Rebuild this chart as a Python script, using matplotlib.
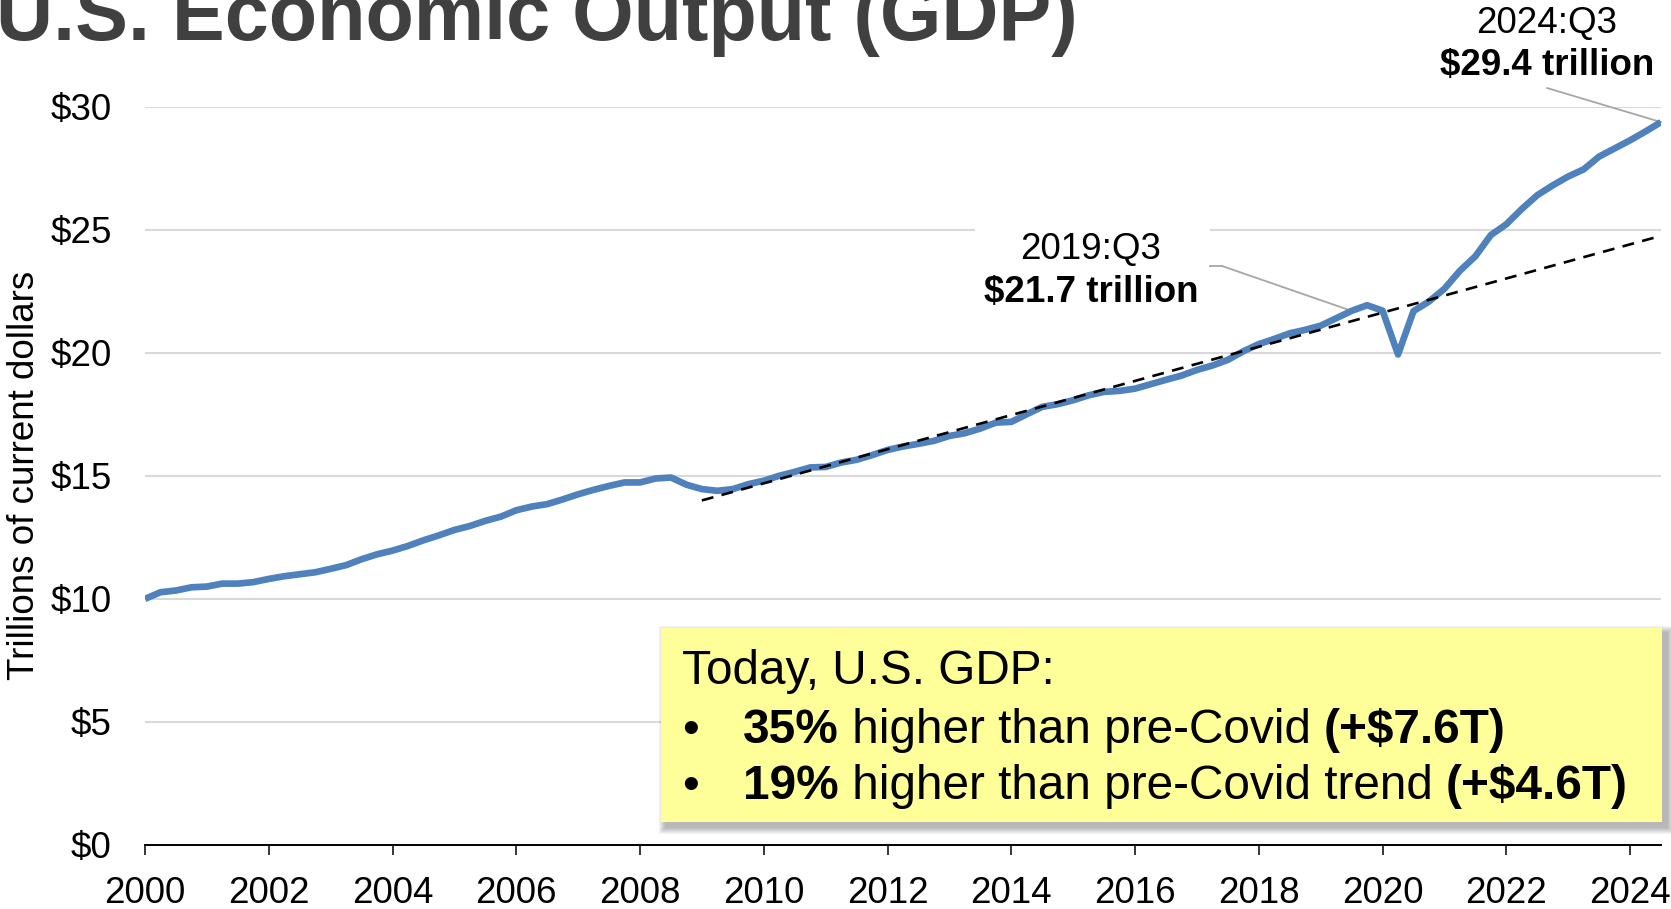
import matplotlib
matplotlib.use("Agg")
import matplotlib.pyplot as plt
from matplotlib.patches import Rectangle
from matplotlib.lines import Line2D
from matplotlib.text import Annotation

plt.rcParams["font.family"] = ["Liberation Sans", "DejaVu Sans"]

# Nominal GDP, seasonally adjusted annual rate, trillions of dollars (2000:Q1 - 2024:Q3)
first_year = 2000
gdp = [
    10.00, 10.27, 10.34, 10.47,
    10.50, 10.62, 10.62, 10.68,
    10.81, 10.92, 11.00, 11.08,
    11.22, 11.37, 11.61, 11.81,
    11.96, 12.15, 12.38, 12.58,
    12.80, 12.96, 13.17, 13.34,
    13.60, 13.75, 13.85, 14.04,
    14.25, 14.43, 14.59, 14.73,
    14.73, 14.89, 14.93, 14.64,
    14.46, 14.39, 14.46, 14.66,
    14.80, 15.00, 15.16, 15.34,
    15.36, 15.54, 15.65, 15.84,
    16.05, 16.19, 16.30, 16.42,
    16.62, 16.73, 16.92, 17.16,
    17.19, 17.50, 17.80, 17.91,
    18.07, 18.27, 18.41, 18.45,
    18.54, 18.72, 18.90, 19.07,
    19.30, 19.48, 19.71, 20.06,
    20.35, 20.56, 20.79, 20.93,
    21.10, 21.40, 21.70, 21.93,
    21.71, 19.93, 21.69, 22.08,
    22.60, 23.33, 23.92, 24.78,
    25.22, 25.84, 26.40, 26.80,
    27.16, 27.45, 27.97, 28.30,
    28.63, 28.99, 29.37,
]

# Pre-Covid linear trend (2009:Q1 through 2024:Q3)
trend_years = [2009.0, 2024.5]
trend_values = [14.0, 24.75]

# Highlighted observations
pre_covid_year, pre_covid_value = 2019.5, 21.70
latest_year, latest_value = 2024.5, 29.37

x_ticks = list(range(2000, 2025, 2))
y_ticks = [0, 5, 10, 15, 20, 25, 30]
y_tick_labels = [f"${v}" for v in y_ticks]

box_lines = [
    [("Today, U.S. GDP:", "normal")],
    [("35%", "bold"), (" higher than pre-Covid ", "normal"), ("(+$7.6T)", "bold")],
    [("19%", "bold"), (" higher than pre-Covid trend ", "normal"), ("(+$4.6T)", "bold")],
]

W, H = 1671, 909
fig = plt.figure(figsize=(W / 100, H / 100), dpi=100)


def fx(px):
    return px / W


def fy(py):
    return 1 - py / H


ax = fig.add_axes([fx(145), fy(845), fx(1661) - fx(145), fy(106.6) - fy(845)])

quarters = [first_year + i * 0.25 for i in range(len(gdp))]
ax.plot(quarters, gdp, color="#4F81BD", lw=4.8, solid_joinstyle="round",
        solid_capstyle="butt", zorder=4)
ax.plot(trend_years, trend_values, color="black", lw=1.9, dashes=(4.5, 3.2), zorder=5)

ax.set_xlim(2000, 2024.5)
ax.set_ylim(0, 30)
ax.set_xticks(x_ticks)
ax.set_xticklabels([str(t) for t in x_ticks])
ax.set_yticks(y_ticks)
ax.set_yticklabels(y_tick_labels)
ax.tick_params(axis="x", direction="out", length=7.5, width=1.1, color="black",
               labelsize=26.5, pad=15)
ax.tick_params(axis="y", length=0, labelsize=26.5, pad=24)
ax.grid(axis="y", color="#D9D9D9", lw=1.5, zorder=0)
ax.set_axisbelow(True)
for side in ("top", "right", "left"):
    ax.spines[side].set_visible(False)
ax.spines["bottom"].set_linewidth(1.4)
ax.spines["bottom"].set_zorder(6)

ax.set_ylabel("Trillions of current dollars", fontsize=26.5)
ax.yaxis.set_label_coords((42 - 145) / (1661 - 145), 0.5)

# Title
fig.text(fx(-4), fy(40), "U.S. Economic Output (GDP)", fontsize=57, fontweight="bold",
         color="#404040", ha="left", va="baseline")

# Annotation: latest quarter
fig.text(fx(1547), fy(33), "2024:Q3", fontsize=26.5, ha="center", va="baseline")
fig.text(fx(1547), fy(75), f"${latest_value:.1f} trillion", fontsize=26.5,
         fontweight="bold", ha="center", va="baseline")
ax.annotate("", xy=(latest_year, latest_value), xycoords="data",
            xytext=(fx(1547), fy(88)), textcoords="figure fraction",
            arrowprops=dict(arrowstyle="-", color="#A6A6A6", lw=1.3,
                            shrinkA=0, shrinkB=0), annotation_clip=False)

# Annotation: pre-Covid peak quarter (white backing hides the gridline)
ax.add_patch(Rectangle((fx(975), fy(308)), fx(1210) - fx(975), fy(222) - fy(308),
                       transform=fig.transFigure, facecolor="white", edgecolor="none",
                       zorder=2))
fig.text(fx(1091), fy(259), "2019:Q3", fontsize=26.5, ha="center", va="baseline")
fig.text(fx(1091), fy(302), f"${pre_covid_value:.1f} trillion", fontsize=26.5,
         fontweight="bold", ha="center", va="baseline")
fig.add_artist(Line2D([fx(1210), fx(1222)], [fy(266), fy(266)], color="#A6A6A6", lw=1.3))
ax.annotate("", xy=(pre_covid_year, pre_covid_value), xycoords="data",
            xytext=(fx(1222), fy(266)), textcoords="figure fraction",
            arrowprops=dict(arrowstyle="-", color="#A6A6A6", lw=1.3,
                            shrinkA=0, shrinkB=0), annotation_clip=False)

# Callout box with a soft drop shadow
bx0, by0, bx1, by1 = 661, 628, 1662, 822
for i in range(7):
    grow = 7 - i
    fig.add_artist(Rectangle((fx(bx0 + 5 - grow), fy(by1 + 5 + grow)),
                             fx(bx1 - bx0 + 2 * grow), (by1 - by0 + 2 * grow) / H,
                             facecolor="#000000", edgecolor="none", alpha=0.045,
                             transform=fig.transFigure, zorder=7))
fig.add_artist(Rectangle((fx(bx0), fy(by1)), fx(bx1 - bx0), (by1 - by0) / H,
                         facecolor="#FFFF99", edgecolor="none",
                         transform=fig.transFigure, zorder=8))

text_size = 34.4
baselines = [684, 743, 799]
for row, (runs, base) in enumerate(zip(box_lines, baselines)):
    if row == 0:
        x0 = 682
    else:
        fig.text(fx(682), fy(base), "\u2022", fontsize=text_size, ha="left",
                 va="baseline", zorder=9)
        x0 = 743
    prev = None
    for txt, weight in runs:
        if prev is None:
            prev = fig.text(fx(x0), fy(base), txt, fontsize=text_size, fontweight=weight,
                            ha="left", va="bottom", zorder=9)
            # shift so the baseline lands on `base`
            r = fig.canvas.get_renderer()
            _, _, d = r.get_text_width_height_descent("lp", prev.get_fontproperties(), False)
            prev.set_position((fx(x0), fy(base) - d / H))
        else:
            nxt = Annotation(txt, xy=(1, 0), xycoords=prev, xytext=(0, 0),
                             textcoords="offset points", fontsize=text_size,
                             fontweight=weight, ha="left", va="bottom", zorder=9,
                             annotation_clip=False)
            fig.add_artist(nxt)
            prev = nxt

fig.savefig("out.png", dpi=100)
